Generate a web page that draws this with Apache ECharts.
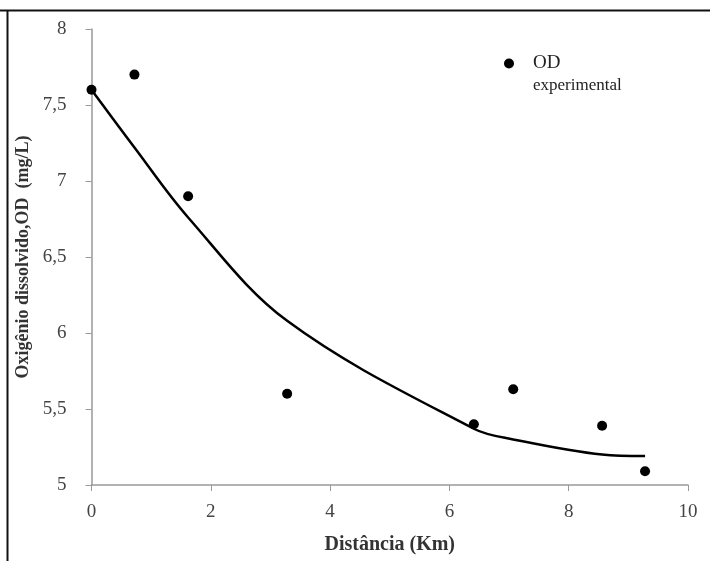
<!DOCTYPE html>
<html>
<head>
<meta charset="utf-8">
<script src="https://cdn.jsdelivr.net/npm/echarts@6/dist/echarts.min.js"></script>
<style>
html,body{margin:0;padding:0;background:#fff;}
#chart{width:710px;height:561px;}
</style>
</head>
<body>
<div id="chart"></div>
<script>
// Experimental dissolved oxygen (OD) points
const expDist = [0, 0.72, 1.62, 3.28, 6.41, 7.07, 8.56, 9.28];
const expOD   = [7.6, 7.70, 6.90, 5.60, 5.40, 5.63, 5.39, 5.09];
// Model curve points
const modelDist = [0, 0.72, 1.62, 3.28, 6.41, 7.07, 8.56, 9.28];
const modelOD   = [7.6, 7.22, 6.76, 6.08, 5.37, 5.30, 5.20, 5.19];
// Axis ticks
const xTicks = [0, 2, 4, 6, 8, 10];
const yTicks = [5, 5.5, 6, 6.5, 7, 7.5, 8];

const chart = echarts.init(document.getElementById('chart'));
const serif = '"Liberation Serif", "Times New Roman", serif';

const option = {
  animation: false,
  backgroundColor: '#fff',
  grid: { left: 91.5, right: 22, top: 29, bottom: 76, containLabel: false },
  xAxis: {
    type: 'value',
    min: xTicks[0], max: xTicks[xTicks.length - 1], interval: 2,
    name: 'Distância (Km)',
    nameLocation: 'middle',
    nameGap: 50,
    nameTextStyle: { fontFamily: serif, fontWeight: 'bold', fontSize: 20, color: '#333' },
    axisLine: { lineStyle: { color: '#999', width: 1.5 } },
    axisTick: { show: true, length: 6, lineStyle: { color: '#999' } },
    axisLabel: { fontFamily: serif, fontSize: 19, color: '#444', margin: 18 },
    splitLine: { show: false }
  },
  yAxis: {
    type: 'value',
    min: yTicks[0], max: yTicks[yTicks.length - 1], interval: 0.5,
    name: 'Oxigênio dissolvido,OD  (mg/L)',
    nameLocation: 'middle',
    nameGap: 59,
    nameRotate: 90,
    nameTextStyle: { fontFamily: serif, fontWeight: 'bold', fontSize: 18, color: '#333' },
    axisLine: { show: true, lineStyle: { color: '#999', width: 1.5 } },
    axisTick: { show: true, length: 6, lineStyle: { color: '#999' } },
    axisLabel: {
      fontFamily: serif, fontSize: 19, color: '#444', margin: 25,
      formatter: v => String(v).replace('.', ',')
    },
    splitLine: { show: false }
  },
  legend: {
    data: [{ name: 'OD', icon: 'circle', itemStyle: { color: '#000', opacity: 1 } }],
    left: 499, top: 49,
    itemWidth: 10, itemHeight: 10, itemGap: 0,
    textStyle: { fontFamily: serif, fontSize: 19, color: '#222', padding: [0, 0, 0, 14] }
  },
  graphic: [
    { type: 'line', shape: { x1: 0, y1: 10.5, x2: 710, y2: 10.5 }, style: { stroke: '#111', lineWidth: 2 } },
    { type: 'line', shape: { x1: 7.5, y1: 10, x2: 7.5, y2: 561 }, style: { stroke: '#111', lineWidth: 2 } },
    { type: 'text', left: 533, top: 77, style: { text: 'experimental', font: '17px "Liberation Serif", serif', fill: '#222' } }
  ],
  series: [
    {
      name: 'Modelo',
      type: 'line',
      data: modelDist.map((d, i) => [d, modelOD[i]]),
      smooth: 0.35,
      showSymbol: false,
      lineStyle: { color: '#000', width: 2.5 },
      z: 2
    },
    {
      name: 'OD',
      type: 'scatter',
      data: expDist.map((d, i) => [d, expOD[i]]),
      symbol: 'circle',
      symbolSize: 10,
      itemStyle: { color: '#000', opacity: 1 },
      z: 3
    }
  ]
};
chart.setOption(option);
</script>
</body>
</html>
